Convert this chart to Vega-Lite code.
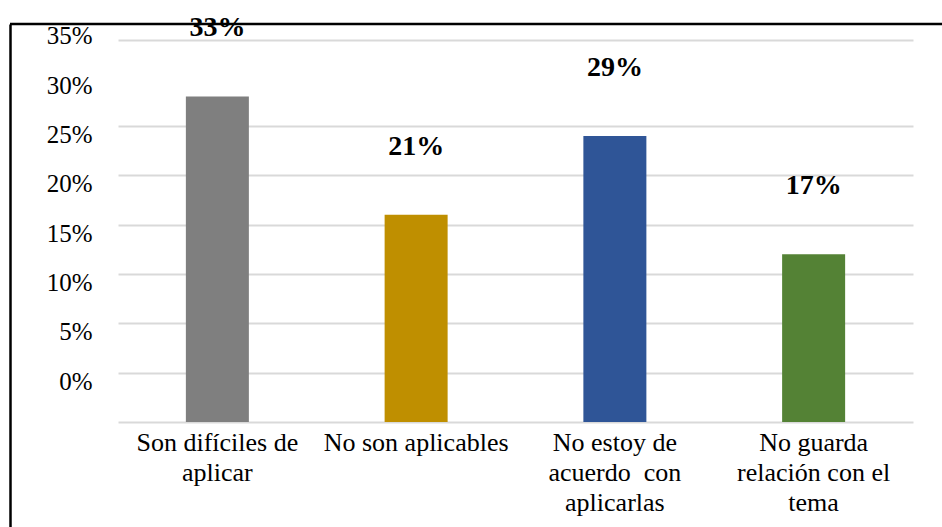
{
  "$schema": "https://vega.github.io/schema/vega-lite/v6.json",
  "width": 932,
  "height": 503,
  "autosize": {"type": "none"},
  "padding": {"left": 10, "top": 24, "right": 0, "bottom": 0},
  "background": "white",
  "config": {"view": {"stroke": null}, "font": "Liberation Serif"},
  "data": {
    "values": [
      {"cat": "Son difíciles de aplicar", "value": 0.33},
      {"cat": "No son aplicables", "value": 0.21},
      {"cat": "No estoy de acuerdo con aplicarlas", "value": 0.29},
      {"cat": "No guarda relación con el tema", "value": 0.17}
    ]
  },
  "layer": [
    {
      "mark": {"type": "bar"},
      "encoding": {
        "x": {
          "field": "cat",
          "type": "nominal",
          "sort": null,
          "scale": {"range": [108, 903], "paddingInner": 0.683, "paddingOuter": 0.3415},
          "axis": {
            "title": null,
            "orient": "bottom",
            "offset": -105,
            "domain": false,
            "ticks": false,
            "grid": false,
            "labelAngle": 0,
            "labelFont": "Liberation Serif",
            "labelFontSize": 26,
            "labelColor": "#000000",
            "labelPadding": 7,
            "labelBaseline": "top",
            "labelLineHeight": 30,
            "labelLimit": 400,
            "labelOverlap": false,
            "labelExpr": "datum.label == 'Son difíciles de aplicar' ? ['Son difíciles de', 'aplicar'] : datum.label == 'No estoy de acuerdo con aplicarlas' ? ['No estoy de', 'acuerdo\u00a0 con', 'aplicarlas'] : datum.label == 'No guarda relación con el tema' ? ['No guarda', 'relación con el', 'tema'] : datum.label"
          }
        },
        "y": {
          "field": "value",
          "type": "quantitative",
          "scale": {"domain": [-0.1064, 0.4034], "nice": false, "zero": false},
          "axis": {
            "title": null,
            "values": [0, 0.05, 0.1, 0.15, 0.2, 0.25, 0.3, 0.35, 0.387],
            "domain": true,
            "domainColor": "#000000",
            "domainWidth": 2.5,
            "ticks": false,
            "tickSize": 0,
            "labelPadding": -82,
            "labelOffset": -41,
            "labelFont": "Liberation Serif",
            "labelFontSize": 25,
            "labelColor": "#000000",
            "labelOverlap": false,
            "labelFlush": false,
            "labelExpr": "datum.value > 0.36 ? '' : format(datum.value, '.0%')",
            "grid": true,
            "gridColor": "#d9d9d9",
            "gridWidth": 2,
            "gridOpacity": {"condition": {"test": "abs(datum.value - 0.35) < 0.001", "value": 0}, "value": 1}
          }
        },
        "color": {
          "field": "cat",
          "type": "nominal",
          "scale": {
            "domain": ["Son difíciles de aplicar", "No son aplicables", "No estoy de acuerdo con aplicarlas", "No guarda relación con el tema"],
            "range": ["#7f7f7f", "#bf8f00", "#2f5597", "#548235"]
          },
          "legend": null
        }
      }
    },
    {
      "mark": {
        "type": "text",
        "dy": -60,
        "baseline": "alphabetic",
        "align": "center",
        "font": "Liberation Serif",
        "fontSize": 28,
        "fontWeight": "bold",
        "color": "#000000"
      },
      "encoding": {
        "x": {"field": "cat", "type": "nominal", "sort": null},
        "y": {"field": "value", "type": "quantitative"},
        "text": {"field": "value", "type": "quantitative", "format": ".0%"}
      }
    },
    {
      "data": {"values": [{"edge": "top"}]},
      "mark": {"type": "rule", "color": "#000000", "strokeWidth": 2.5},
      "encoding": {
        "y": {"datum": 0.4034, "type": "quantitative"}
      }
    }
  ]
}
